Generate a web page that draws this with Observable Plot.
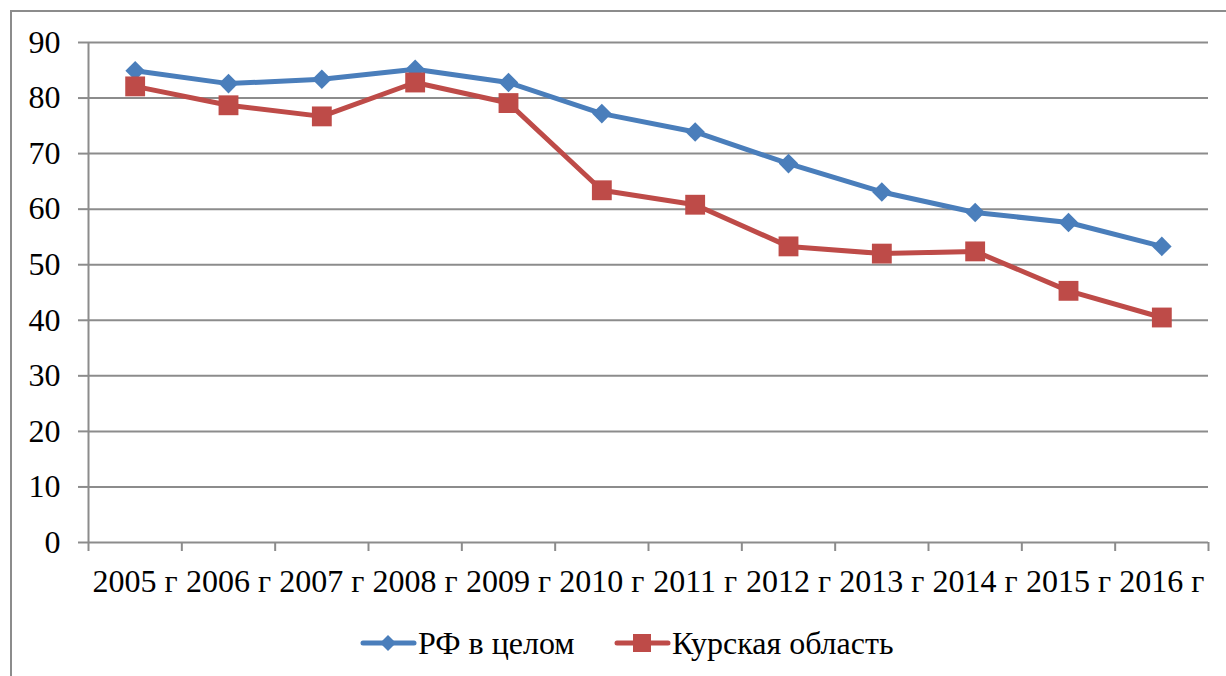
<!DOCTYPE html>
<html><head><meta charset="utf-8">
<script src="https://cdn.jsdelivr.net/npm/d3@7"></script>
<script src="https://cdn.jsdelivr.net/npm/@observablehq/plot@0.6"></script>
<style>
html,body{margin:0;padding:0;background:#fff;overflow:hidden;width:1226px;height:676px;font-family:'Liberation Serif',serif;}
#frame{position:absolute;left:10px;top:10px;width:1400px;height:900px;border:2px solid #8c8c8c;}
#chart{position:absolute;left:0;top:0;}
#chart svg text{font-family:'Liberation Serif',serif;}
#legend{position:absolute;left:0;top:610px;width:1226px;height:66px;font-family:'Liberation Serif',serif;font-size:32px;color:#000;}
.lg{position:absolute;top:0;height:66px;display:flex;align-items:center;white-space:nowrap;}
</style>
</head><body>
<div id="frame"></div>
<div id="chart"></div>
<div id="legend"></div>
<script>
const years = ["2005 г","2006 г","2007 г","2008 г","2009 г","2010 г","2011 г","2012 г","2013 г","2014 г","2015 г","2016 г"];
const rf    = [84.9, 82.6, 83.4, 85.2, 82.8, 77.2, 73.9, 68.2, 63.1, 59.4, 57.6, 53.3];
const kursk = [82.1, 78.7, 76.7, 82.8, 79.1, 63.4, 60.8, 53.3, 52.0, 52.4, 45.3, 40.5];
const yTicks = [0, 10, 20, 30, 40, 50, 60, 70, 80, 90];
const seriesNames = ["РФ в целом", "Курская область"];
const colors = ["#4A7EBB", "#BE4B48"];

const rows = vals => vals.map((v, i) => ({i: i + 0.5, year: years[i], v}));
const rfRows = rows(rf), kuRows = rows(kursk);
const grid = "#8c8c8c";
const font = "'Liberation Serif', serif";

const chart = Plot.plot({
  width: 1226, height: 610,
  marginLeft: 88, marginRight: 18, marginTop: 42, marginBottom: 68,
  style: {fontFamily: font, fontSize: "32px", color: "#000", background: "transparent"},
  x: {type: "linear", domain: [0, years.length]},
  y: {domain: [0, 90]},
  marks: [
    Plot.gridY(yTicks, {stroke: grid, strokeOpacity: 1, strokeWidth: 2}),
    Plot.ruleX([0], {stroke: grid, strokeWidth: 2}),
    Plot.axisY(yTicks, {tickSize: 10, tickPadding: 18, stroke: grid, strokeWidth: 2, label: null, fontSize: 32, fontFamily: font, fill: "#000"}),
    Plot.axisX(d3.range(0, years.length + 1), {tickSize: 9, tickFormat: () => "", stroke: grid, strokeWidth: 2, label: null}),
    Plot.axisX(d3.range(years.length).map(i => i + 0.5), {tickSize: 0, tickPadding: 27, tickFormat: d => years[Math.floor(d)], label: null, fontSize: 32, fontFamily: font, fill: "#000"}),
    Plot.line(rfRows, {x: "i", y: "v", stroke: colors[0], strokeWidth: 5}),
    Plot.dot(rfRows, {x: "i", y: "v", symbol: "diamond2", r: 8.8, fill: colors[0]}),
    Plot.line(kuRows, {x: "i", y: "v", stroke: colors[1], strokeWidth: 5}),
    Plot.dot(kuRows, {x: "i", y: "v", symbol: "square", r: 11.2, fill: colors[1]})
  ]
});
document.getElementById("chart").appendChild(chart);

// legend
const legend = document.getElementById("legend");
const lgPos = [{sw: 360, tx: 418, sym: "diamond"}, {sw: 614, tx: 672, sym: "square"}];
seriesNames.forEach((name, k) => {
  const p = lgPos[k];
  const sw = document.createElement("div");
  sw.className = "lg";
  sw.style.left = p.sw + "px";
  const shape = p.sym === "diamond"
    ? `<path d="M28,4 L36,12 L28,20 L20,12 Z" fill="${colors[k]}"/>`
    : `<rect x="19" y="3" width="18" height="18" fill="${colors[k]}"/>`;
  sw.innerHTML = `<svg width="57" height="24"><line x1="3" y1="12" x2="54" y2="12" stroke="${colors[k]}" stroke-width="5" stroke-linecap="round"/>${shape}</svg>`;
  legend.appendChild(sw);
  const t = document.createElement("div");
  t.className = "lg";
  t.style.left = p.tx + "px";
  t.textContent = name;
  legend.appendChild(t);
});
</script>
</body></html>
